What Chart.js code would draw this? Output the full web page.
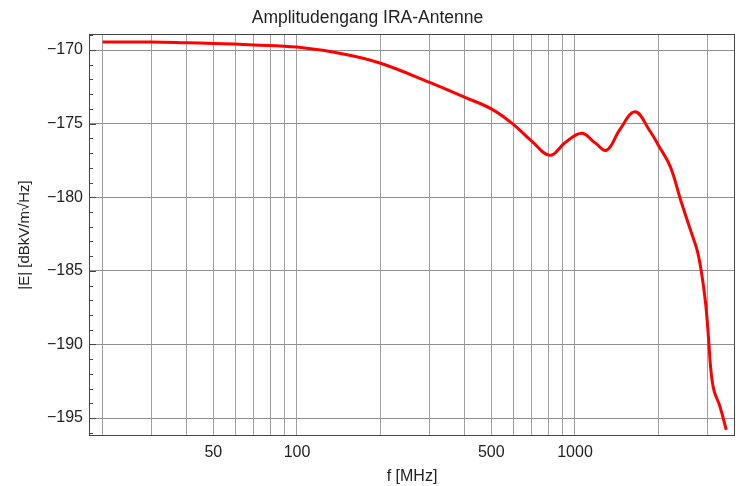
<!DOCTYPE html>
<html>
<head>
<meta charset="utf-8">
<script src="https://cdn.jsdelivr.net/npm/chart.js@4"></script>
<style>
  html, body { margin: 0; padding: 0; background: #fff; }
  #wrap { width: 736px; height: 486px; }
</style>
</head>
<body>
<div id="wrap"><canvas id="chart" width="736" height="486"></canvas></div>
<script>
// frequency response
const freqs = [20, 30, 40, 50, 70, 100, 150, 200, 300, 400, 500, 600, 700, 813, 920, 1057, 1180, 1300, 1450, 1644, 1860, 2000, 2200, 2400, 2600, 2750, 2850, 2950, 3020, 3080, 3160, 3320, 3500];
const levels = [-169.45, -169.45, -169.5, -169.55, -169.65, -169.8, -170.3, -170.9, -172.2, -173.2, -174.0, -175.05, -176.2, -177.15, -176.3, -175.65, -176.3, -176.8, -175.4, -174.2, -175.5, -176.5, -177.9, -180.2, -182.2, -183.6, -185.1, -187.2, -189.5, -191.7, -193.1, -194.2, -195.8];

const xGrid = [20, 30, 40, 50, 60, 70, 80, 90, 100, 200, 300, 400, 500, 600, 700, 800, 900, 1000, 2000, 3000];
const xLabels = [50, 100, 500, 1000];
const yTicks = [-195, -190, -185, -180, -175, -170];

const FONT = "'Liberation Sans', Arial, sans-serif";

// frame + small inward ticks on the left edge
const framePlugin = {
  id: 'frame',
  afterDatasetsDraw(chart) {
    const { ctx, chartArea: a, scales } = chart;
    ctx.save();
    ctx.strokeStyle = '#444';
    ctx.lineWidth = 1;
    ctx.strokeRect(a.left + 0.5, a.top + 0.5, a.right - a.left - 1, a.bottom - a.top - 1);
    ctx.beginPath();
    for (let v = -196; v <= -169; v++) {
      const y = Math.round(scales.y.getPixelForValue(v)) + 0.5;
      const len = v % 5 === 0 ? 7 : 4;
      ctx.moveTo(a.left, y);
      ctx.lineTo(a.left + len, y);
    }
    ctx.stroke();
    ctx.restore();
  }
};

new Chart(document.getElementById('chart'), {
  type: 'line',
  data: {
    datasets: [{
      data: freqs.map((f, i) => ({ x: f, y: levels[i] })),
      borderColor: '#ff0000',
      borderWidth: 3,
      pointRadius: 0,
      tension: 0.4,
      fill: false
    }]
  },
  plugins: [framePlugin],
  options: {
    responsive: false,
    animation: false,
    layout: { padding: { left: 0, right: 1, top: 0, bottom: 0 } },
    plugins: {
      legend: { display: false },
      tooltip: { enabled: false },
      title: {
        display: true,
        text: 'Amplitudengang IRA-Antenne',
        color: '#222',
        font: { family: FONT, size: 17.5, weight: 'normal' },
        padding: { top: 8, bottom: 5 }
      }
    },
    scales: {
      x: {
        type: 'logarithmic',
        min: 17.86,
        max: 3763,
        afterBuildTicks: s => { s.ticks = xGrid.map(v => ({ value: v })); },
        afterFit: s => { s.height = 50; },
        grid: { color: '#a0a0a0', lineWidth: 1, drawTicks: false },
        border: { display: false },
        ticks: {
          autoSkip: false,
          maxRotation: 0,
          padding: 7,
          color: '#222',
          font: { family: FONT, size: 16 },
          callback: v => xLabels.includes(v) ? String(v) : ''
        },
        title: {
          display: true,
          text: 'f [MHz]',
          color: '#222',
          font: { family: FONT, size: 16 },
          padding: { top: 0, bottom: 0 }
        }
      },
      y: {
        min: -196.22,
        max: -168.91,
        afterBuildTicks: s => { s.ticks = yTicks.map(v => ({ value: v })); },
        afterFit: s => { s.width = 89; },
        grid: { color: '#909090', lineWidth: 1, drawTicks: false },
        border: { display: false },
        ticks: {
          padding: 6,
          color: '#222',
          font: { family: FONT, size: 16 },
          callback: v => '\u2212' + Math.abs(v)
        },
        title: {
          display: true,
          text: '|E| [dBkV/m\u221AHz]',
          color: '#222',
          font: { family: FONT, size: 15 },
          padding: { top: 16, bottom: 0 }
        }
      }
    }
  }
});
</script>
</body>
</html>
